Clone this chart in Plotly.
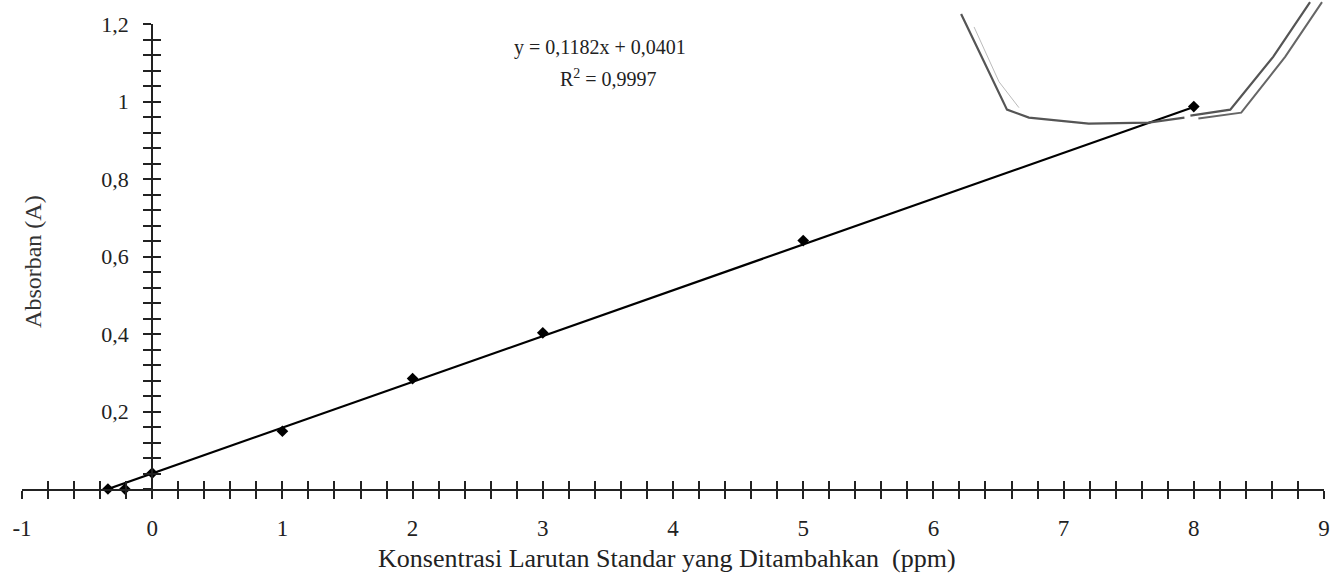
import plotly.graph_objects as go

# Data
conc = [-0.34, -0.21, 0, 1, 2, 3, 5, 8]
absorb = [0.0, 0.0, 0.041, 0.149, 0.285, 0.403, 0.641, 0.987]

# Linear trendline from the chart equation
slope = 0.1182
intercept = 0.0401
line_x = [-0.34, 8]

x_ticks = [-1, 0, 1, 2, 3, 4, 5, 6, 7, 8, 9]
x_ticktext = ["-1", "0", "1", "2", "3", "4", "5", "6", "7", "8", "9"]
y_ticks = [0.2, 0.4, 0.6, 0.8, 1.0, 1.2]
y_ticktext = ["0,2", "0,4", "0,6", "0,8", "1", "1,2"]

W, H = 1342, 576
ML, MR, MT, MB = 20, 16, 22, 87
PW, PH = W - ML - MR, H - MT - MB


def px(x):
    return (x - ML) / PW


def py(y):
    return (H - MB - y) / PH


FONT = "Liberation Serif"
fig = go.Figure()

fig.add_trace(go.Scatter(
    x=line_x, y=[slope * v + intercept for v in line_x],
    mode="lines", line=dict(color="black", width=2.2),
    hoverinfo="skip", showlegend=False, cliponaxis=False,
))
fig.add_trace(go.Scatter(
    x=conc, y=absorb, mode="markers",
    marker=dict(symbol="diamond", size=9, color="black"),
    showlegend=False, cliponaxis=False,
))
# dummy trace for secondary axes (cross ticks)
fig.add_trace(go.Scatter(x=[None], y=[None], xaxis="x2", yaxis="y2", showlegend=False))

common_x = dict(range=[-1, 9], showgrid=False, zeroline=False)
fig.update_layout(
    width=W, height=H,
    margin=dict(l=ML, r=MR, t=MT, b=MB),
    paper_bgcolor="white", plot_bgcolor="white",
    font=dict(family=FONT, color="#222", size=22),
    xaxis=dict(
        **common_x, anchor="y", showline=True, linecolor="#222", linewidth=2,
        tickmode="array", tickvals=x_ticks, ticktext=x_ticktext,
        ticks="outside", ticklen=8, tickwidth=2, tickcolor="#222",
        ticklabelstandoff=9, tickfont=dict(size=23, family=FONT),
        minor=dict(ticks="outside", ticklen=8, tickwidth=2, tickcolor="#222",
                   tick0=0, dtick=0.2, showgrid=False),
    ),
    xaxis2=dict(
        **common_x, overlaying="x", anchor="y", side="bottom", showline=False,
        tickmode="array", tickvals=x_ticks, showticklabels=False,
        ticks="inside", ticklen=8, tickwidth=2, tickcolor="#222",
        minor=dict(ticks="inside", ticklen=8, tickwidth=2, tickcolor="#222",
                   tick0=0, dtick=0.2, showgrid=False),
    ),
    yaxis=dict(
        range=[0, 1.2], showgrid=False, zeroline=False,
        anchor="free", position=0.1, showline=True, linecolor="#222", linewidth=2,
        tickmode="array", tickvals=y_ticks, ticktext=y_ticktext,
        ticks="outside", ticklen=8, tickwidth=2, tickcolor="#222",
        ticklabelstandoff=10, tickfont=dict(size=22, family=FONT),
        minor=dict(ticks="outside", ticklen=8, tickwidth=2, tickcolor="#222",
                   tick0=0, dtick=0.04, showgrid=False),
    ),
    yaxis2=dict(
        range=[0, 1.2], showgrid=False, zeroline=False, overlaying="y",
        anchor="free", position=0.1, side="left", showline=False,
        tickmode="array", tickvals=y_ticks, showticklabels=False,
        ticks="inside", ticklen=8, tickwidth=2, tickcolor="#222",
        minor=dict(ticks="inside", ticklen=8, tickwidth=2, tickcolor="#222",
                   tick0=0, dtick=0.04, showgrid=False),
    ),
    annotations=[
        dict(text="Konsentrasi Larutan Standar yang Ditambahkan  (ppm)",
             xref="paper", yref="paper", x=px(667), y=py(559),
             showarrow=False, font=dict(size=26, family=FONT, color="#222"),
             xanchor="center", yanchor="middle"),
        dict(text="Absorban (A)", xref="paper", yref="paper",
             x=px(31), y=py(260), textangle=-90, showarrow=False,
             font=dict(size=24, family=FONT, color="#333"),
             xanchor="center", yanchor="middle"),
        dict(text="y = 0,1182x + 0,0401", xref="paper", yref="paper",
             x=px(600), y=py(46), showarrow=False,
             font=dict(size=20, family=FONT, color="#222"),
             xanchor="center", yanchor="middle"),
        dict(text="R<sup>2</sup> = 0,9997", xref="paper", yref="paper",
             x=px(608), y=py(76), showarrow=False,
             font=dict(size=20, family=FONT, color="#222"),
             xanchor="center", yanchor="middle"),
    ],
)

# faint scanned stamp outline in the upper right corner
def path(points):
    return "M " + " L ".join(f"{px(a)},{py(b)}" for a, b in points)

stamp_lines = [
    ([(962, 12), (985, 60), (1008, 108), (1030, 116), (1090, 122), (1150, 121), (1186, 116)], 2.2, "#555"),
    ([(975, 25), (1000, 80), (1020, 106)], 1, "#bbb"),
    ([(1192, 114), (1232, 108), (1275, 55), (1312, 0)], 2.2, "#555"),
    ([(1200, 117), (1243, 111), (1287, 55), (1324, 0)], 2, "#666"),
]
shapes = []
for pts, w, c in stamp_lines:
    shapes.append(dict(type="path", xref="paper", yref="paper", path=path(pts),
                       line=dict(color=c, width=w), layer="above"))
fig.update_layout(shapes=shapes)

fig.write_html("out.html")
